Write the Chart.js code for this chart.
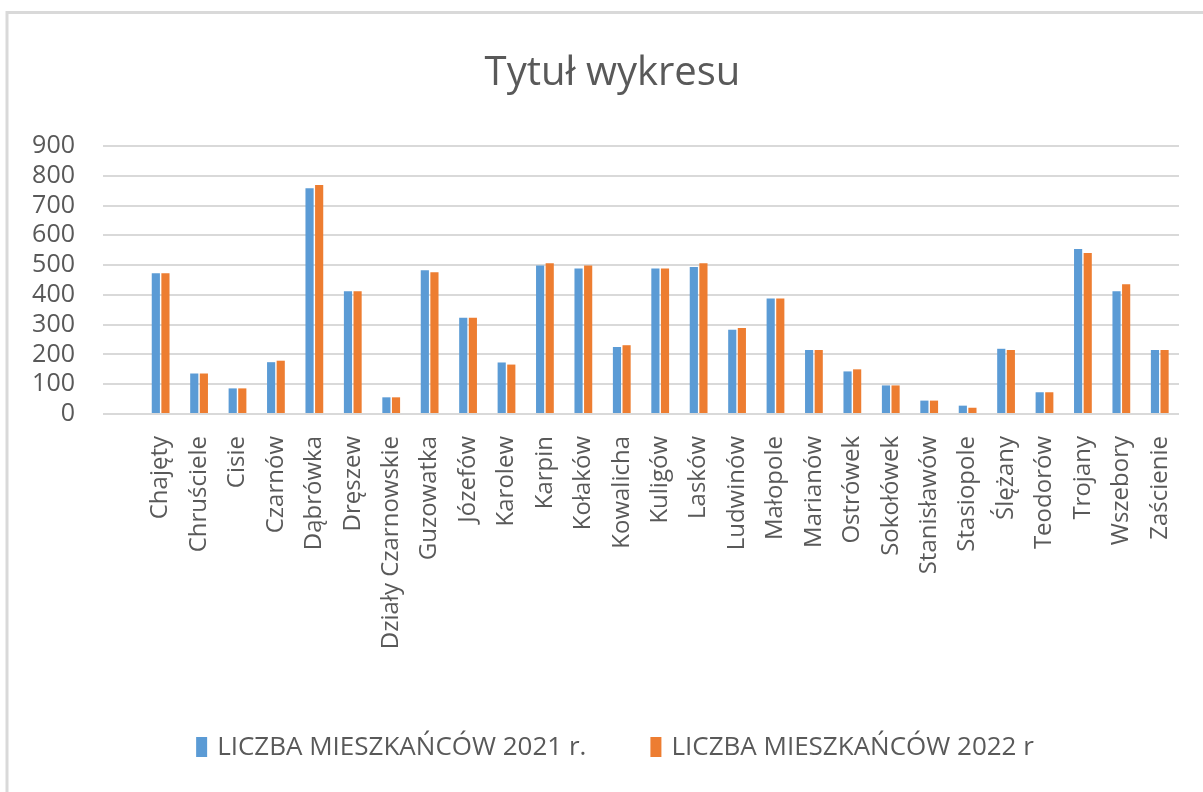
<!DOCTYPE html>
<html>
<head>
<meta charset="utf-8">
<script src="https://cdn.jsdelivr.net/npm/chart.js@4.4.1/dist/chart.umd.min.js"></script>
<style>
  html, body { margin: 0; padding: 0; background: #ffffff; }
  #wrap { position: absolute; left: 0; top: 0; width: 1203px; height: 792px; }
</style>
</head>
<body>
<div id="wrap"><canvas id="c" width="1203" height="792"></canvas></div>
<script>
// first category is an empty row in the source sheet
const categories = ["","Chajęty","Chruściele","Cisie","Czarnów","Dąbrówka","Dręszew","Działy Czarnowskie","Guzowatka","Józefów","Karolew","Karpin","Kołaków","Kowalicha","Kuligów","Lasków","Ludwinów","Małopole","Marianów","Ostrówek","Sokołówek","Stanisławów","Stasiopole","Ślężany","Teodorów","Trojany","Wszebory","Zaścienie"];
const series2021 = [null,473,136,86,174,758,412,56,483,323,173,499,489,225,489,494,283,388,215,143,96,45,28,219,73,554,412,215];
const series2022 = [null,473,136,86,179,769,412,56,476,323,166,506,499,231,489,506,289,388,215,150,96,45,21,215,73,541,436,215];
const seriesNames = ["LICZBA MIESZKAŃCÓW 2021 r.","LICZBA MIESZKAŃCÓW 2022 r"];
const seriesColors = ["#5B9BD5","#ED7D31"];
const yMin = 0, yMax = 900, yStep = 100;
const titleText = "Tytuł wykresu";

const FONT = "'Open Sans', sans-serif";
const GREY = "#595959";

const framePlugin = {
  id: 'frame',
  beforeDraw(chart) {
    const ctx = chart.ctx;
    ctx.save();
    ctx.fillStyle = '#ffffff';
    ctx.fillRect(0, 0, chart.width, chart.height);
    ctx.strokeStyle = '#D9D9D9';
    ctx.lineWidth = 3;
    ctx.beginPath();
    ctx.moveTo(7, chart.height);
    ctx.lineTo(7, 12.5);
    ctx.lineTo(chart.width, 12.5);
    ctx.stroke();
    ctx.restore();
  }
};

// legend drawn from the datasets, laid out like the original (wide gap between items)
const legendPlugin = {
  id: 'wideLegend',
  afterDraw(chart) {
    const ctx = chart.ctx;
    ctx.save();
    ctx.font = "26px " + FONT;
    ctx.textBaseline = 'middle';
    const boxW = 11, boxH = 20, boxGap = 10, itemGap = 64, cy = 747, cx = 615;
    const items = chart.data.datasets.map(d => ({ text: d.label, color: d.backgroundColor, w: ctx.measureText(d.label).width }));
    let total = 0;
    items.forEach((it, i) => { total += boxW + boxGap + it.w + (i ? itemGap : 0); });
    let x = cx - total / 2;
    items.forEach((it, i) => {
      if (i) x += itemGap;
      ctx.fillStyle = it.color;
      ctx.fillRect(x, cy - boxH / 2, boxW, boxH);
      x += boxW + boxGap;
      ctx.fillStyle = GREY;
      ctx.fillText(it.text, x, cy + 1);
      x += it.w;
    });
    ctx.restore();
  }
};

new Chart(document.getElementById('c'), {
  type: 'bar',
  data: {
    labels: categories,
    datasets: [
      { label: seriesNames[0], data: series2021, backgroundColor: seriesColors[0],
        categoryPercentage: 0.5, barPercentage: 0.85 },
      { label: seriesNames[1], data: series2022, backgroundColor: seriesColors[1],
        categoryPercentage: 0.5, barPercentage: 0.85 }
    ]
  },
  options: {
    responsive: false,
    animation: false,
    devicePixelRatio: 1,
    layout: { padding: { left: 28, right: 6, top: 0, bottom: 0 } },
    plugins: {
      title: {
        display: true, text: titleText, color: GREY,
        font: { family: FONT, size: 40, weight: 'normal' },
        padding: { top: 50, bottom: 48 }
      },
      legend: { display: false },
      tooltip: { enabled: false }
    },
    scales: {
      x: {
        grid: { display: false },
        border: { display: false },
        ticks: {
          autoSkip: false, maxRotation: 90, minRotation: 90,
          color: GREY, font: { family: FONT, size: 24 }, padding: 14
        },
        afterFit(scale) { scale.height = 378; }
      },
      y: {
        min: yMin, max: yMax,
        grid: { color: '#D9D9D9', lineWidth: 2, drawTicks: false },
        border: { display: false },
        ticks: { stepSize: yStep, autoSkip: false, color: GREY, font: { family: FONT, size: 25 }, padding: 28 },
        afterFit(scale) { scale.width = 75; }
      },
      yRight: {
        type: 'linear', position: 'right', display: true,
        min: yMin, max: yMax,
        grid: { display: false, drawTicks: false },
        border: { display: false },
        ticks: { display: false },
        afterFit(scale) { scale.width = 18; }
      }
    }
  },
  plugins: [framePlugin, legendPlugin]
});
</script>
</body>
</html>
